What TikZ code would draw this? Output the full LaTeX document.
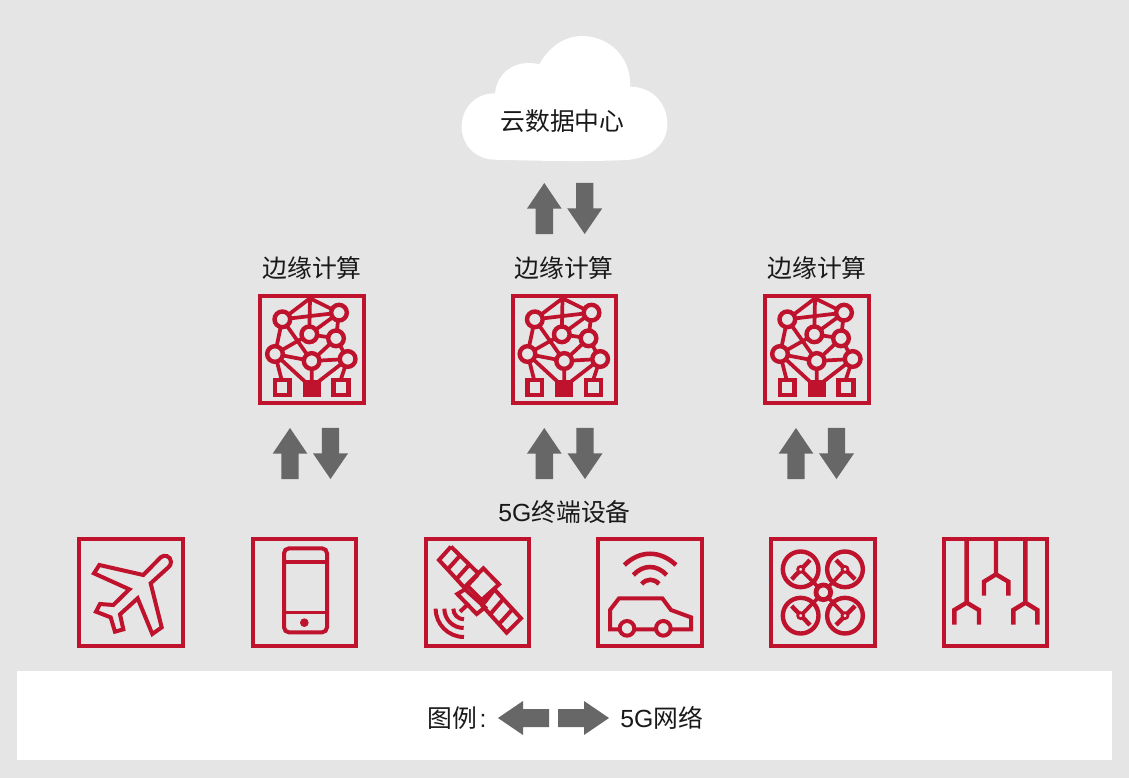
\documentclass[tikz,border=0pt]{standalone}
\usepackage{fontspec}
\setmainfont{Liberation Sans}
\newfontfamily\cjk{Noto Sans CJK SC}
\definecolor{bgc}{HTML}{E5E5E5}
\definecolor{redc}{HTML}{BE122D}
\definecolor{grayc}{HTML}{676767}
\tikzset{
  ic/.style={draw=redc,line width=3pt,line join=miter},
  fr/.style={draw=redc,line width=3.2pt},
  lab/.style={inner sep=0pt,text=black!90,font=\fontsize{18.6pt}{20pt}\selectfont\cjk},
  blk/.style={fill=grayc,draw=none},
  zoomed/.style={x=0.25pt,y=-0.25pt},
  edgeicon/.pic={
    \begin{scope}[zoomed]
      \draw[fr] (31,34) rectangle (341,354);
      \draw[ic,line width=2.8pt] (180,40) -- (97,103) -- (267,83) -- (180,40) -- (178,148)
        (97,103) -- (75,207) (97,103) -- (185,228) (267,83) -- (258,160) (267,83) -- (178,148)
        (178,148) -- (258,160) (178,148) -- (75,207) (258,160) -- (185,228) (258,160) -- (293,222)
        (75,207) -- (185,228) -- (293,222) (75,207) -- (95,285) (293,222) -- (272,285)
        (185,228) -- (185,290) (75,207) -- (165,290) (293,222) -- (205,290);
      \foreach \x/\y in {97/103,267/83,178/148,258/160,75/207,185/228,293/222}
        \draw[ic,line width=3.3pt,fill=bgc] (\x,\y) circle (23.5);
      \draw[ic,line width=3.3pt,fill=bgc] (75,285) rectangle (118,330);
      \draw[ic,line width=3.3pt,fill=bgc] (250,285) rectangle (295,330);
      \fill[redc] (158,285) rectangle (212,336);
    \end{scope}}
}
\begin{document}
\begin{tikzpicture}[x=0.75pt,y=-0.75pt]
\useasboundingbox (0,0) rectangle (1129,778);
\fill[bgc] (0,0) rectangle (1129,778);
\fill[white] (17,671) rectangle (1112,760);
% cloud
\begin{scope}[shift={(450,30)},zoomed]
\fill[white] (135,190) .. controls (140,130) and (195,85) .. (268,103)
  .. controls (300,45) and (350,18) .. (395,18)
  .. controls (480,18) and (545,85) .. (540,170)
  .. controls (610,170) and (652,225) .. (652,280)
  .. controls (652,345) and (600,385) .. (530,390)
  .. controls (400,396) and (250,392) .. (130,389)
  .. controls (70,385) and (35,340) .. (35,290)
  .. controls (35,235) and (75,190) .. (135,190) -- cycle;
\end{scope}
\node[lab] (cloudtxt) at (562.5,121) {云数据中心};
% block arrows
\foreach \n/\x/\y in {ua/544.3/183,ub/290/428,uc/544.3/428,ud/796/428}{
  \fill[blk] (\x,\y) -- ++(17.3,25.6) -- ++(-8.6,0) -- ++(0,25.6) -- ++(-17.4,0) -- ++(0,-25.6) -- ++(-8.6,0) -- cycle;
}
\foreach \n/\x/\y in {da/584.7/234,db/330.5/479,dc/585/479,dd/836.5/479}{
  \fill[blk] (\x,\y) -- ++(17.5,-25.6) -- ++(-8.8,0) -- ++(0,-25.6) -- ++(-17.4,0) -- ++(0,25.6) -- ++(-8.8,0) -- cycle;
}
% edge labels
\node[lab] (e1) at (312,268) {边缘计算};
\node[lab] (e2) at (564,268) {边缘计算};
\node[lab] (e3) at (817,268) {边缘计算};
\pic at (250,285) {edgeicon};
\pic at (502.5,285) {edgeicon};
\pic at (755,285) {edgeicon};
\node[lab] (term) at (564.5,512) {\rmfamily 5G\cjk 终端设备};
% icons row 1
\begin{scope}[shift={(70,530)},zoomed]
  \draw[fr] (28,28) rectangle (339,348);
  \draw[ic] (88,105) -- (220,135) -- (272,82) .. controls (282,72) and (302,78) .. (303,95)
    .. controls (303,103) and (300,108) .. (295,112) -- (242,160) -- (275,292) -- (247,312) -- (203,205)
    -- (150,253) -- (160,298) -- (135,305) -- (122,262) -- (78,245) -- (90,222) -- (130,225)
    -- (178,178) -- (72,130) -- cycle;
  \draw[fr] (548,28) rectangle (857,348);
  \draw[ic,rounded corners=3.75pt] (642,55) rectangle (771,307);
  \draw[ic] (642,96) -- (771,96);
  \draw[ic,line width=2.2pt] (642,248) -- (771,248);
  \fill[redc] (703,278) circle (13);
\end{scope}
\begin{scope}[shift={(415,530)},zoomed]
  \draw[fr] (32,28) rectangle (342,348);
  \draw[ic] (108,50) -- (72,90) -- (150,175) (108,50) -- (190,130)
    (240,180) -- (318,265) -- (275,308) -- (200,225)
    (134,78) -- (100,116) (162,105) -- (128,143) (189,133) -- (150,175)
    (237,180) -- (205,222) (264,208) -- (228,250) (292,238) -- (254,280);
  \draw[ic] (205,115) -- (252,163) -- (200,210) -- (155,165) -- cycle;
  \draw[ic] (150,178) -- (127,192) -- (185,252) -- (210,232) -- cycle;
  \draw[ic] (135,245) -- (162,220);
  \draw[ic] (62,236) arc[start angle=180,end angle=90,radius=85];
  \draw[ic] (88,236) arc[start angle=180,end angle=90,radius=58];
  \draw[ic] (115,236) arc[start angle=180,end angle=90,radius=32];
  \draw[fr] (550,28) rectangle (860,348);
  \draw[ic] (585,298) -- (585,240) -- (612,205) -- (742,205) -- (768,240) -- (828,262) -- (828,298) -- cycle;
  \draw[ic,fill=bgc] (636,295) circle (22);
  \draw[ic,fill=bgc] (745,295) circle (22);
  \draw[ic,line width=3.4pt] (628,105) .. controls (675,60) and (735,60) .. (783,105);
  \draw[ic,line width=3.4pt] (655,135) .. controls (685,103) and (725,103) .. (755,135);
  \draw[ic,line width=3.4pt] (680,162) .. controls (695,145) and (717,145) .. (732,162);
\end{scope}
\begin{scope}[shift={(760,530)},zoomed]
  \draw[fr] (34,28) rectangle (344,348);
  \draw[ic,line width=2.8pt] (122,118) -- (190,187) (255,118) -- (190,187) (122,257) -- (190,187) (255,257) -- (190,187);
  \draw[ic,line width=3.3pt] (95,148) -- (150,90) (228,90) -- (285,148) (95,228) -- (150,285) (228,285) -- (285,228);
  \foreach \x/\y in {122/118,255/118,122/257,255/257}{
    \draw[ic,line width=3.3pt] (\x,\y) circle (53.5);
    \draw[ic,line width=2pt,fill=bgc] (\x,\y) circle (9);
  }
  \draw[ic,line width=3.6pt,fill=bgc] (190,187) circle (22);
  \draw[fr] (553,28) rectangle (862,348);
  \draw[ic,line width=3.3pt] (620,28) -- (620,218) (583,284) -- (583,240) -- (620,218) -- (657,240) -- (657,284)
    (708,28) -- (708,133) (672,197) -- (672,155) -- (708,133) -- (745,155) -- (745,197)
    (796,28) -- (796,218) (760,284) -- (760,240) -- (796,218) -- (832,240) -- (832,284);
\end{scope}
% legend
\node[lab,anchor=west] (lg) at (427,718) {图例\hspace{2pt}\rmfamily :};
\fill[blk] (498,718) -- (523,701) -- (523,709) -- (549,709) -- (549,727) -- (523,727) -- (523,735) -- cycle;
\fill[blk] (609,718) -- (584,701) -- (584,709) -- (558,709) -- (558,727) -- (584,727) -- (584,735) -- cycle;
\node[lab,anchor=west] (lg2) at (620,718) {\rmfamily 5G\cjk 网络};
\end{tikzpicture}
\end{document}
